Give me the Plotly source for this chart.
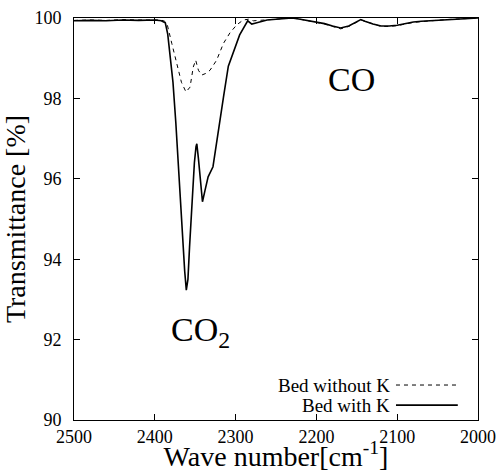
import plotly.graph_objects as go

# Bed with K (solid)
wn_with = [2500, 2480, 2460, 2440, 2420, 2400, 2392, 2387, 2384, 2381, 2377.5, 2374, 2371,
           2366, 2363, 2361, 2359, 2357, 2354, 2351, 2349, 2348, 2346, 2343, 2341, 2338,
           2334, 2328, 2321, 2315, 2309, 2303, 2295, 2285, 2280, 2276, 2268, 2261, 2250,
           2240, 2230, 2220, 2210, 2200, 2190, 2180, 2170, 2160, 2150, 2145, 2140, 2130,
           2120, 2110, 2100, 2090, 2080, 2070, 2060, 2040, 2020, 2000]
tr_with = [99.93, 99.94, 99.93, 99.95, 99.94, 99.95, 99.93, 99.88, 99.6, 99.0, 98.4, 97.4, 96.3,
           94.65, 93.7, 93.23, 93.5, 94.3, 95.5, 96.4, 96.8, 96.87, 96.5, 95.8, 95.43, 95.7,
           96.05, 96.3, 97.3, 98.03, 98.8, 99.15, 99.58, 99.93, 99.85, 99.87, 99.92, 99.95, 99.97,
           99.99, 100.0, 99.97, 99.93, 99.9, 99.86, 99.8, 99.75, 99.8, 99.9, 99.96, 99.92, 99.85,
           99.8, 99.8, 99.82, 99.86, 99.9, 99.92, 99.93, 99.96, 99.98, 100.0]

# Bed without K (dashed)
wn_without = [2500, 2480, 2460, 2440, 2420, 2400, 2392, 2388, 2385, 2379, 2373, 2367, 2361.4,
              2356.4, 2352.4, 2349.4, 2346, 2342, 2337, 2331.7, 2323.5, 2315, 2307, 2298.6,
              2290.5, 2284, 2278, 2270, 2260, 2250, 2240, 2230, 2220, 2210, 2200, 2190, 2180,
              2170, 2160, 2150, 2145, 2140, 2130, 2120, 2110, 2100, 2090, 2080, 2070, 2060,
              2040, 2020, 2000]
tr_without = [99.94, 99.95, 99.94, 99.96, 99.95, 99.96, 99.95, 99.92, 99.87, 99.37, 98.88, 98.4, 98.16,
              98.28, 98.78, 98.95, 98.7, 98.58, 98.62, 98.7, 98.95, 99.37, 99.63, 99.83,
              99.95, 99.97, 99.93, 99.94, 99.96, 99.98, 99.99, 100.0, 99.97, 99.93, 99.89, 99.85, 99.79,
              99.73, 99.79, 99.89, 99.95, 99.92, 99.85, 99.79, 99.79, 99.81, 99.85, 99.89, 99.91, 99.93,
              99.96, 99.98, 100.0]

x_ticks = [2500, 2400, 2300, 2200, 2100, 2000]
y_ticks = [90, 92, 94, 96, 98, 100]

FONT = "Liberation Serif"

fig = go.Figure()
fig.add_trace(go.Scatter(x=wn_without, y=tr_without, mode="lines", name="Bed without K",
                         line=dict(color="black", width=1, dash="4px,4px"), showlegend=False,
                         hoverinfo="skip"))
fig.add_trace(go.Scatter(x=wn_with, y=tr_with, mode="lines", name="Bed with K",
                         line=dict(color="black", width=1.6), showlegend=False,
                         hoverinfo="skip"))

axis_common = dict(showline=True, linecolor="black", linewidth=1, mirror="ticks",
                   ticks="inside", ticklen=6, tickcolor="black", tickwidth=1,
                   showgrid=False, zeroline=False,
                   tickfont=dict(family=FONT, size=18, color="black"))

fig.update_xaxes(range=[2500, 2000], tickvals=x_ticks, ticktext=[str(v) for v in x_ticks],
                 ticklabelstandoff=0,
                 title=dict(text="Wave number[cm<sup>-1</sup>]", font=dict(family=FONT, size=28, color="black"),
                            standoff=0),
                 **axis_common)
fig.update_yaxes(range=[90, 100], tickvals=y_ticks, ticktext=[str(v) for v in y_ticks],
                 ticklabelstandoff=8,
                 title=dict(text="Transmittance [%]", font=dict(family=FONT, size=28, color="black"),
                            standoff=5),
                 **axis_common)

annotations = [
    dict(x=2157, y=98.46, xref="x", yref="y", text="CO", showarrow=False,
         font=dict(family=FONT, size=34, color="black")),
    dict(x=2343, y=92.2, xref="x", yref="y", text="CO<sub>2</sub>", showarrow=False,
         font=dict(family=FONT, size=34, color="black")),
    dict(x=0.787, y=0.087, xref="paper", yref="paper", text="Bed without K", showarrow=False,
         xanchor="right", yanchor="middle", font=dict(family=FONT, size=19, color="black")),
    dict(x=0.787, y=0.037, xref="paper", yref="paper", text="Bed with K", showarrow=False,
         xanchor="right", yanchor="middle", font=dict(family=FONT, size=19, color="black")),
]
shapes = [
    dict(type="line", xref="paper", yref="paper", x0=0.797, x1=0.95, y0=0.087, y1=0.087,
         line=dict(color="black", width=1, dash="4px,4px")),
    dict(type="line", xref="paper", yref="paper", x0=0.797, x1=0.95, y0=0.037, y1=0.037,
         line=dict(color="black", width=1.6)),
]

fig.update_layout(width=504, height=472, margin=dict(l=74, r=26, t=18, b=52, autoexpand=False),
                  plot_bgcolor="white", paper_bgcolor="white",
                  font=dict(family=FONT, color="black"),
                  hovermode=False,
                  annotations=annotations, shapes=shapes)

fig.write_html("out.html", config={"displayModeBar": False},
               post_script="document.body.style.margin='0';document.body.style.overflow='hidden';")
